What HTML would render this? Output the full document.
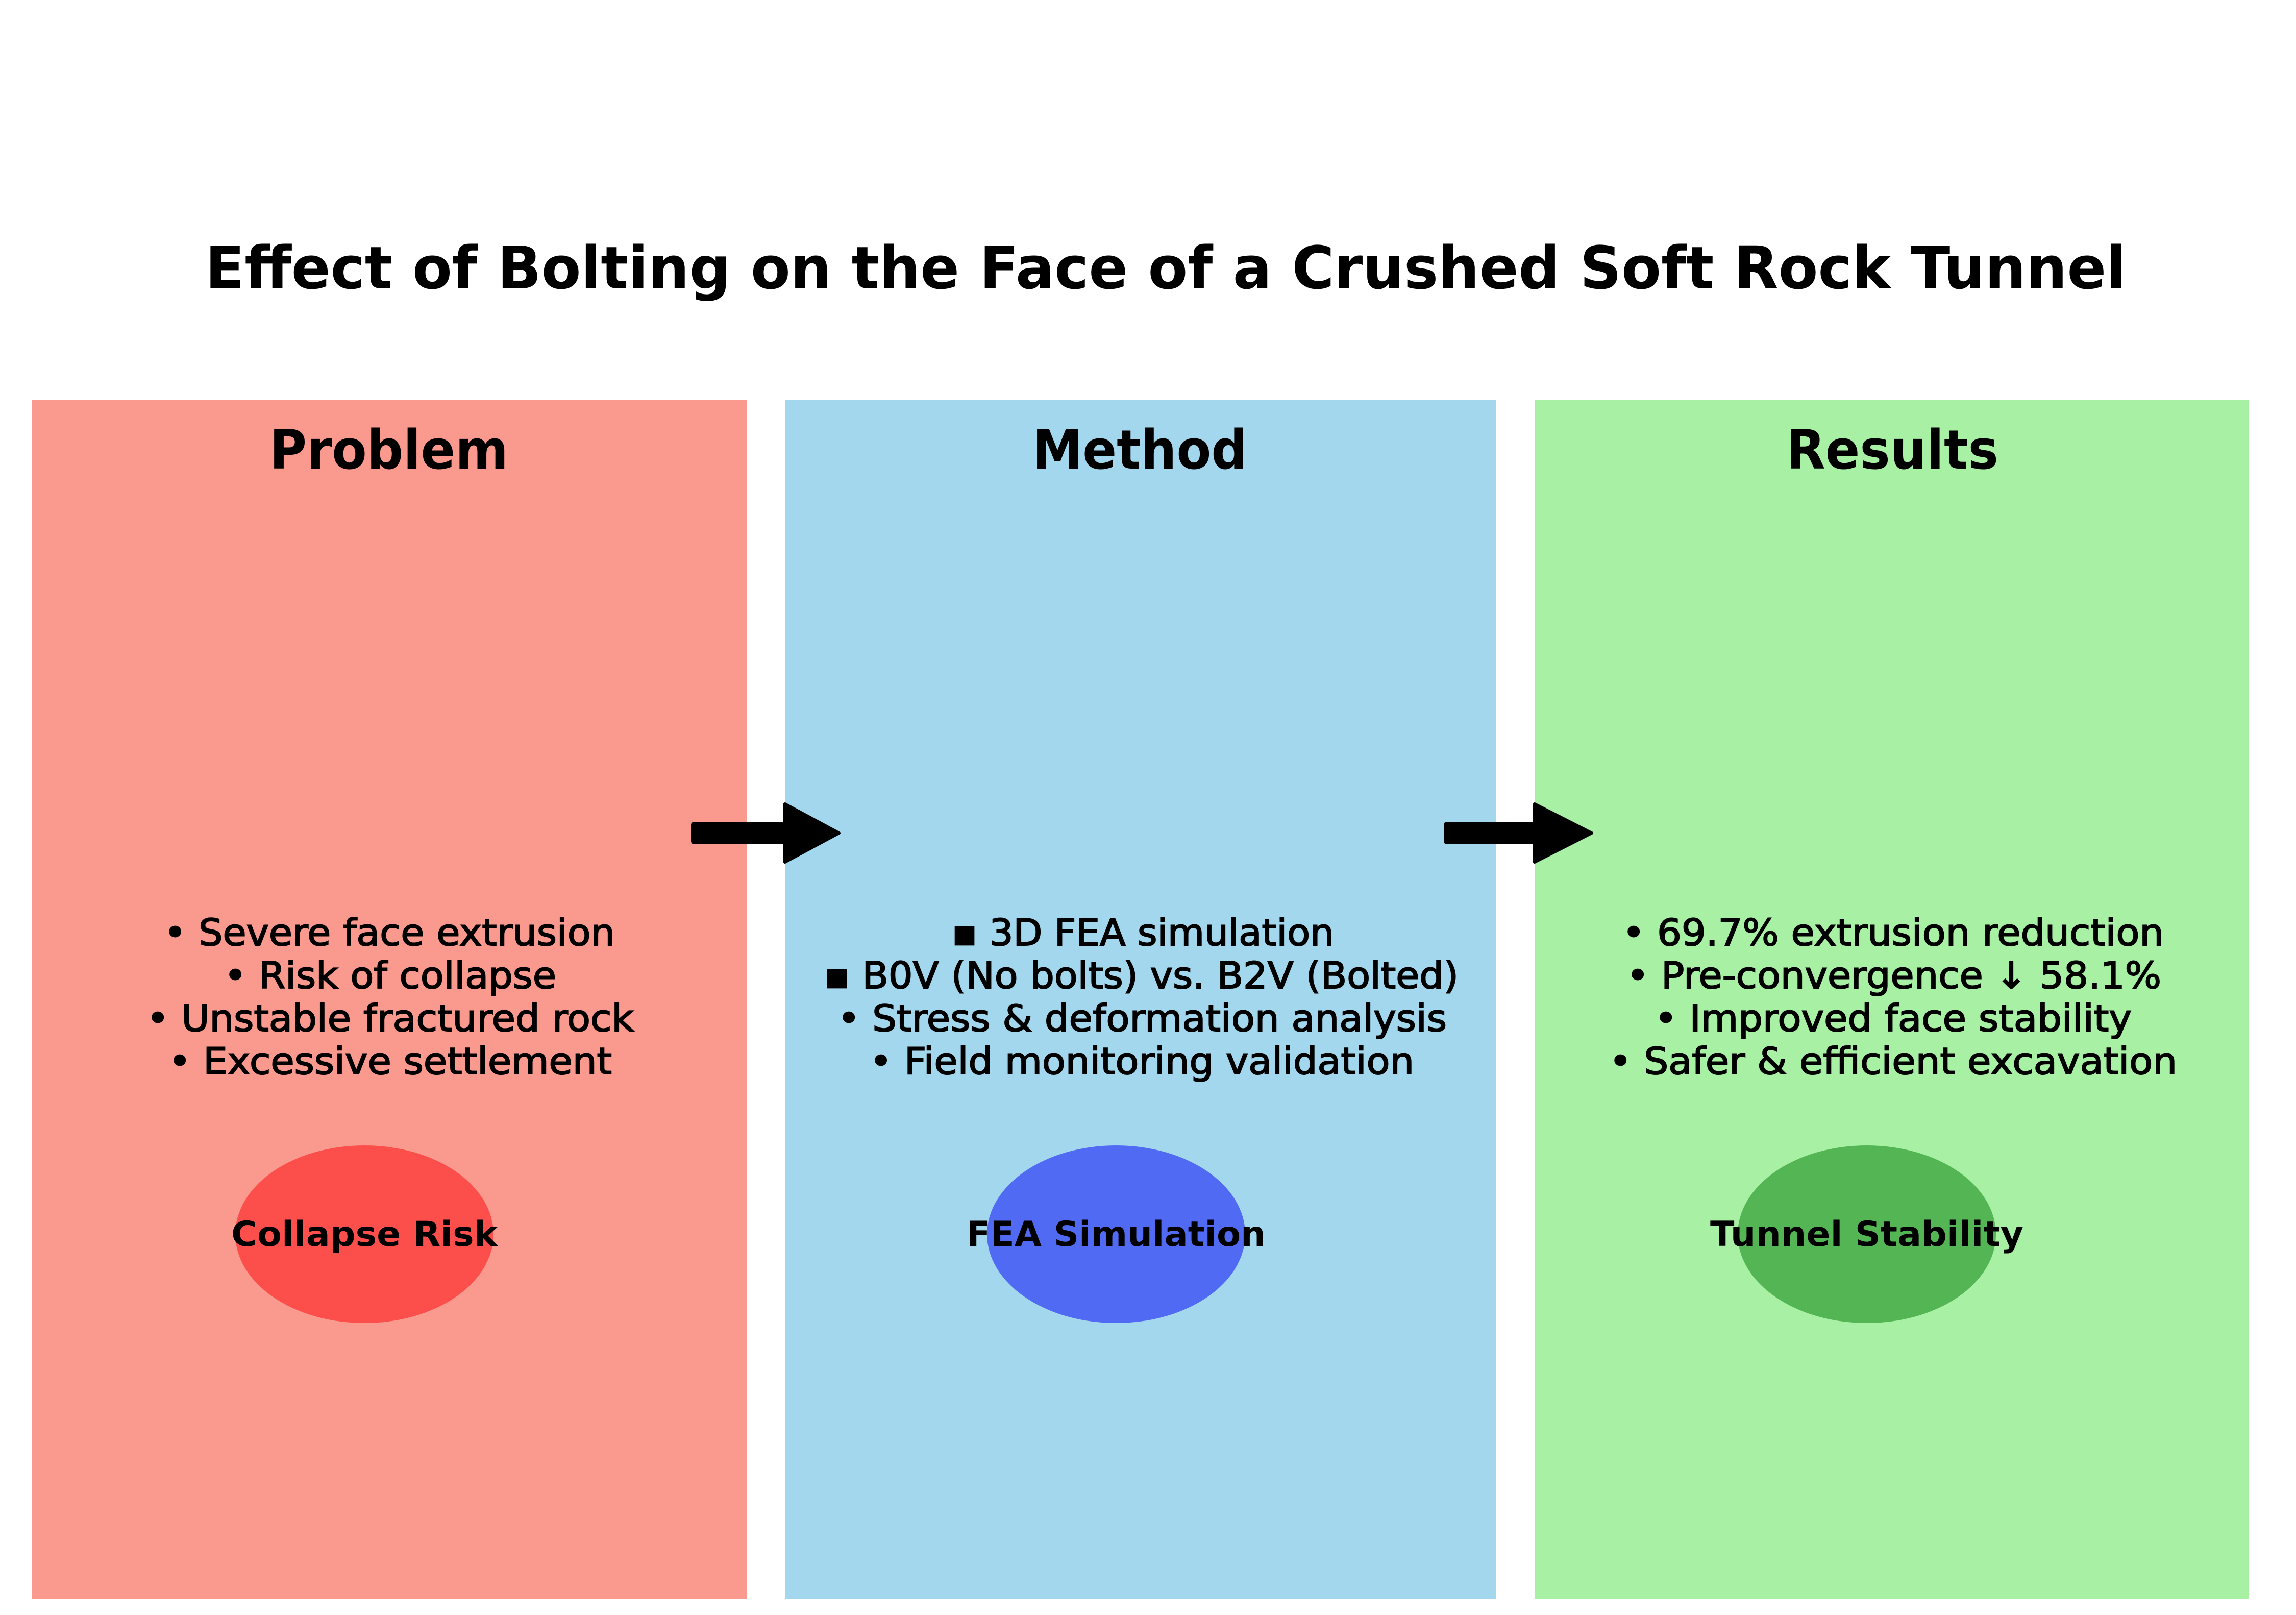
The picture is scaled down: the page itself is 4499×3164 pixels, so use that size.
<!DOCTYPE html>
<html><head><meta charset="utf-8"><style>
html,body{margin:0;padding:0;background:#fff;}
svg{display:block;}
text{font-family:"DejaVu Sans","Liberation Sans",sans-serif;fill:#000;}
.b{font-weight:bold;}
</style></head><body>
<svg width="4499" height="3164" viewBox="0 0 4499 3164" xmlns="http://www.w3.org/2000/svg">
<rect width="4499" height="3164" fill="#fff"/>
<text class="b" x="402" y="565" font-size="115" textLength="3764" lengthAdjust="spacingAndGlyphs">Effect of Bolting on the Face of a Crushed Soft Rock Tunnel</text>

<rect x="63" y="783" width="1400" height="2349" fill="#FA998E"/>
<rect x="1538" y="783" width="1394" height="2349" fill="#A2D7EE"/>
<rect x="3007" y="783" width="1400" height="2349" fill="#A7F0A4"/>

<text class="b" x="528" y="918" font-size="106" textLength="468" lengthAdjust="spacingAndGlyphs">Problem</text>
<text class="b" x="2023" y="918" font-size="106" textLength="421" lengthAdjust="spacingAndGlyphs">Method</text>
<text class="b" x="3500" y="918" font-size="106" textLength="416" lengthAdjust="spacingAndGlyphs">Results</text>

<g font-size="72" stroke="#000" stroke-width="2">
<text x="321" y="1852" textLength="884" lengthAdjust="spacingAndGlyphs">• Severe face extrusion</text>
<text x="439" y="1936" textLength="651" lengthAdjust="spacingAndGlyphs">• Risk of collapse</text>
<text x="287" y="2020" textLength="955" lengthAdjust="spacingAndGlyphs">• Unstable fractured rock</text>
<text x="330" y="2104" textLength="869" lengthAdjust="spacingAndGlyphs">• Excessive settlement</text>

<text x="1865" y="1852" textLength="749" lengthAdjust="spacingAndGlyphs">▪ 3D FEA simulation</text>
<text x="1615" y="1936" textLength="1243" lengthAdjust="spacingAndGlyphs">▪ B0V (No bolts) vs. B2V (Bolted)</text>
<text x="1641" y="2020" textLength="1194" lengthAdjust="spacingAndGlyphs">• Stress &amp; deformation analysis</text>
<text x="1704" y="2104" textLength="1067" lengthAdjust="spacingAndGlyphs">• Field monitoring validation</text>

<text x="3179" y="1852" textLength="1061" lengthAdjust="spacingAndGlyphs">• 69.7% extrusion reduction</text>
<text x="3187" y="1936" textLength="1048" lengthAdjust="spacingAndGlyphs">• Pre-convergence ↓ 58.1%</text>
<text x="3242" y="2020" textLength="935" lengthAdjust="spacingAndGlyphs">• Improved face stability</text>
<text x="3153" y="2104" textLength="1113" lengthAdjust="spacingAndGlyphs">• Safer &amp; efficient excavation</text>
</g>

<ellipse cx="714" cy="2418" rx="253" ry="174" fill="#FC4E4A"/>
<ellipse cx="2187" cy="2418" rx="253" ry="174" fill="#516AF4"/>
<ellipse cx="3658" cy="2418" rx="253" ry="174" fill="#54B554"/>

<g font-size="68">
<text class="b" x="453" y="2441" textLength="522" lengthAdjust="spacingAndGlyphs">Collapse Risk</text>
<text class="b" x="1894" y="2441" textLength="586" lengthAdjust="spacingAndGlyphs">FEA Simulation</text>
<text class="b" x="3351" y="2441" textLength="614" lengthAdjust="spacingAndGlyphs">Tunnel Stability</text>
</g>

<g fill="#000">
<rect x="1354" y="1610" width="190" height="44" rx="6"/>
<polygon points="1538,1575 1644,1632 1538,1689" stroke="#000" stroke-width="6" stroke-linejoin="round"/>
<rect x="2829" y="1610" width="184" height="44" rx="6"/>
<polygon points="3007,1575 3119,1632 3007,1689" stroke="#000" stroke-width="6" stroke-linejoin="round"/>
</g>
</svg>
</body></html>
